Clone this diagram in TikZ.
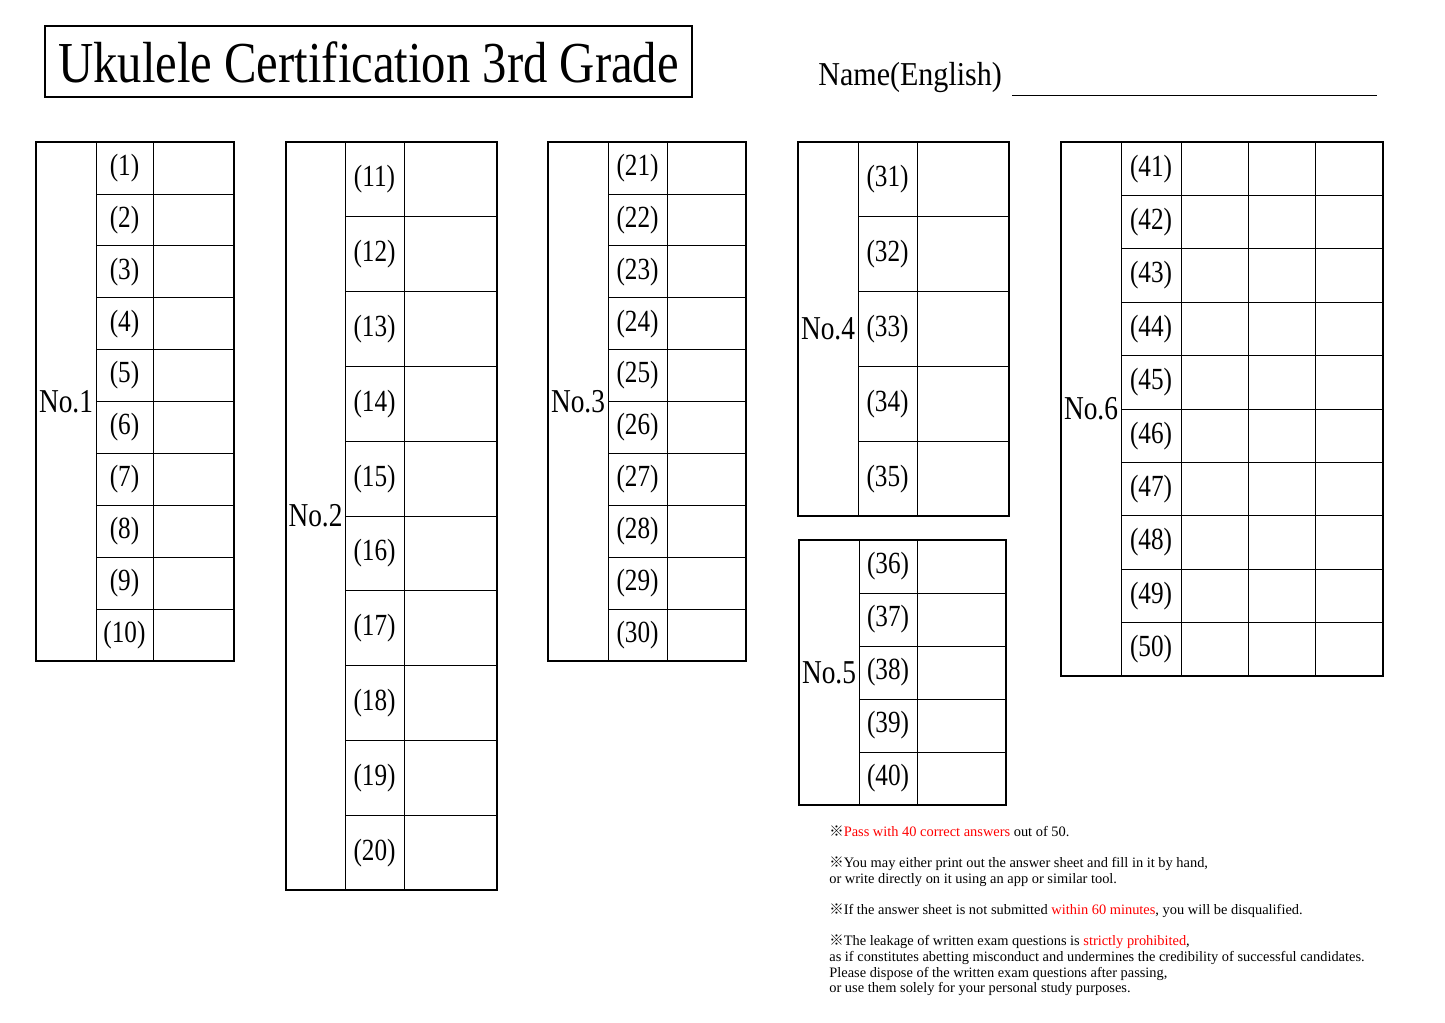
\documentclass[tikz,border=0pt]{standalone}
\usepackage{fontspec}
\setmainfont{Liberation Serif}
\newfontfamily\cjk{Noto Sans CJK JP}
\newcommand{\narrow}[1]{\scalebox{0.82}[1]{#1}}
\newcommand{\kome}{{\cjk ※}}
% one answer block: x0,y0,x1,y1, number column, answer column, rows, label, first number
\newcommand{\answerblock}[9]{%
  \draw[very thick] (#1,#2) rectangle (#3,#4);
  \draw[thin] (#5,#2) -- (#5,#4);
  \draw[thin] (#6,#2) -- (#6,#4);
  \pgfmathsetmacro{\rowh}{(#4-#2)/#7}
  \foreach \i in {1,...,#7}{
    \pgfmathsetmacro{\yy}{#2+\i*\rowh}
    \pgfmathsetmacro{\yc}{#2+(\i-0.5)*\rowh}
    \pgfmathtruncatemacro{\qn}{#9+\i-1}
    \ifnum\i<#7 \draw[thin] (#5,\yy) -- (#3,\yy); \fi
    \node[numtext] (q\qn) at ({(#5+#6)/2},\yc) {\narrow{(\qn)}};
  }
  \node[labtext] (lab#8) at ({(#1+#5)/2},{(#2+#4)/2}) {\narrow{No.#8}};
}
\begin{document}
\begin{tikzpicture}[x=0.02cm,y=-0.02cm,
  numtext/.style={font=\fontsize{17.5}{19}\selectfont,inner sep=0pt},
  labtext/.style={font=\fontsize{19}{21}\selectfont,inner sep=0pt},
  note/.style={font=\fontsize{8.2}{9.1}\selectfont,anchor=north west,inner sep=0pt,align=left}]
\useasboundingbox (0,0) rectangle (1445,1022);
% title
\draw[thick] (45,26) rectangle (692,97);
\node[font=\fontsize{33}{35}\selectfont] (title) at (368.5,62) {\scalebox{0.84}[1]{Ukulele Certification 3rd Grade}};
\node[font=\fontsize{19}{21}\selectfont,anchor=south west,inner sep=0pt] (name) at (818,93) {\scalebox{0.9}[1]{Name(English)}};
\draw (1012,95) -- (1377,95);
% blocks
\answerblock{36}{142}{234}{661}{96}{153}{10}{1}{1}
\answerblock{286}{142}{497}{890}{345}{404}{10}{2}{11}
\answerblock{548}{142}{746}{661}{608}{667}{10}{3}{21}
\answerblock{798}{142}{1009}{516}{858}{917}{5}{4}{31}
\answerblock{799}{540}{1006}{805}{859}{917}{5}{5}{36}
\answerblock{1061}{142}{1383}{676}{1121}{1181}{10}{6}{41}
\foreach \xx in {1248,1315}{ \draw[thin] (\xx,142) -- (\xx,676); }
% notes
\node[note] (n1) at (829,825) {\kome\textcolor{red}{Pass with 40 correct answers} out of 50.};
\node[note] (n2) at (829,856) {\kome You may either print out the answer sheet and fill in it by hand,\\or write directly on it using an app or similar tool.};
\node[note] (n3) at (829,903) {\kome If the answer sheet is not submitted \textcolor{red}{within 60 minutes}, you will be disqualified.};
\node[note] (n4) at (829,934) {\kome The leakage of written exam questions is \textcolor{red}{strictly prohibited},\\as if constitutes abetting misconduct and undermines the credibility of successful candidates.\\Please dispose of the written exam questions after passing,\\or use them solely for your personal study purposes.};
\end{tikzpicture}
\end{document}
